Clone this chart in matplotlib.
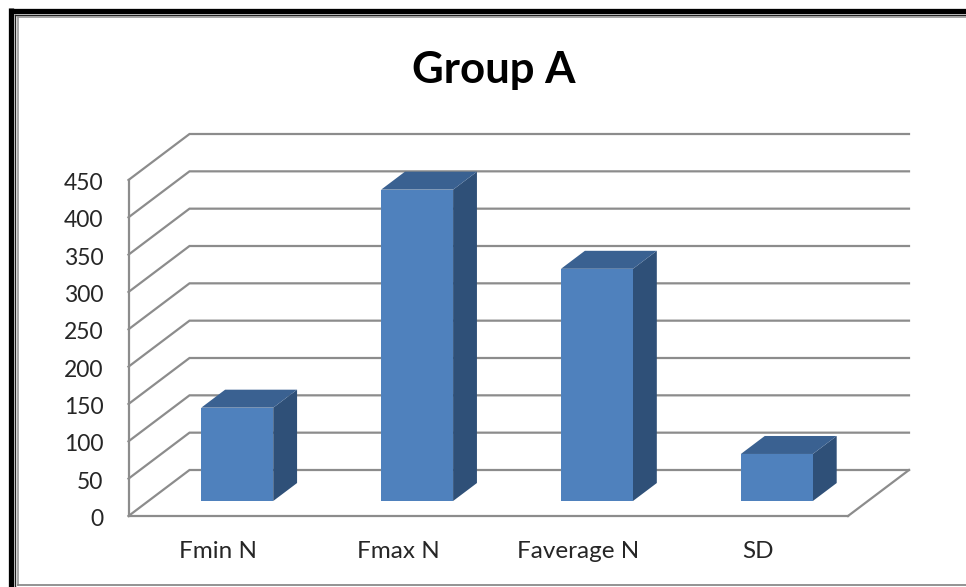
#Group A 3D style bar chart, drawn on a flat axes with an oblique depth offset
import matplotlib
matplotlib.use("Agg")
import matplotlib.pyplot as plt
from matplotlib.patches import Polygon
from matplotlib.transforms import ScaledTranslation

categories = ["Fmin N", "Fmax N", "Faverage N", "SD"]
values = [125, 417, 311, 63]
y_ticks = [0, 50, 100, 150, 200, 250, 300, 350, 400, 450]

W, H = 966, 587
plt.rcParams['font.family'] = ['Lato', 'DejaVu Sans']

fig = plt.figure(figsize=(W / 100, H / 100), dpi=100)

#frame round the whole picture, in pixels
bg = fig.add_axes([0, 0, 1, 1])
bg.set_xlim(0, W)
bg.set_ylim(H, 0)
bg.axis("off")
bg.plot([11, 11], [8, H], color="black", lw=3.8, solid_capstyle="butt")
bg.plot([9, W], [10.5, 10.5], color="black", lw=3.8, solid_capstyle="butt")
bg.plot([15, 15], [14.5, H], color="#222222", lw=1.0)
bg.plot([15, W], [14.5, 14.5], color="#222222", lw=1.0)
bg.plot([17.5, 17.5], [16.5, 585], color="#999999", lw=1.2)
bg.plot([17.5, W], [16.5, 16.5], color="#999999", lw=1.2)
bg.plot([17.5, W], [585, 585], color="#808080", lw=1.2)

#main axes is the front plane of the chart
left, right, top, bottom = 128.5, 848, 180, 516
ax = fig.add_axes([left / W, 1 - bottom / H, (right - left) / W, (bottom - top) / H])
ax.set_xlim(0, len(categories))
ax.set_ylim(0, 450)
ax.patch.set_alpha(0)

#depth of the box in data units
DX = 61 / ((right - left) / len(categories))
DY = 46 / ((bottom - top) / 450)

def proj(x, y, d):
    return x + d * DX, y + d * DY

grid_color = "#8C8C8C"
grid_lw = 1.6
for v in y_ticks:
    p0 = proj(0, v, 0)
    p1 = proj(0, v, 1)
    p2 = proj(len(categories), v, 1)
    ax.plot([p0[0], p1[0], p2[0]], [p0[1], p1[1], p2[1]], color=grid_color, lw=grid_lw,
            clip_on=False, zorder=1, solid_joinstyle="miter")

#floor, front edge and right edge
p0 = proj(len(categories), 0, 0)
p1 = proj(len(categories), 0, 1)
ax.plot([p0[0], p1[0]], [p0[1], p1[1]], color=grid_color, lw=grid_lw, clip_on=False, zorder=1)
ax.plot([0, len(categories)], [0, 0], color=grid_color, lw=grid_lw, clip_on=False, zorder=1)
ax.plot([0, 0], [0, 450], color=grid_color, lw=grid_lw, clip_on=False, zorder=1)

#bars
bar_w = 0.40
bar_shift = -0.006
d_front = 0.326
d_back = 0.717
front_color = "#4F81BD"
top_color = "#3A6191"
side_color = "#2F5078"
for i, val in enumerate(values):
    x0 = i + 0.5 + bar_shift - bar_w / 2
    x1 = i + 0.5 + bar_shift + bar_w / 2
    front = [proj(x0, 0, d_front), proj(x1, 0, d_front), proj(x1, val, d_front), proj(x0, val, d_front)]
    roof = [proj(x0, val, d_front), proj(x1, val, d_front), proj(x1, val, d_back), proj(x0, val, d_back)]
    side = [proj(x1, 0, d_front), proj(x1, 0, d_back), proj(x1, val, d_back), proj(x1, val, d_front)]
    ax.add_patch(Polygon(side, closed=True, fc=side_color, ec="none", clip_on=False, zorder=3))
    ax.add_patch(Polygon(roof, closed=True, fc=top_color, ec="none", clip_on=False, zorder=3))
    ax.add_patch(Polygon(front, closed=True, fc=front_color, ec="none", clip_on=False, zorder=4))

for s in ax.spines.values():
    s.set_visible(False)
ax.set_yticks(y_ticks)
ax.set_xticks([i + 0.5 for i in range(len(categories))])
ax.set_xticklabels(categories)
ax.tick_params(axis="y", length=0, pad=18, labelsize=16.5, labelcolor="#262626")
ax.tick_params(axis="x", length=0, pad=18, labelsize=17.5, labelcolor="#262626")

#nudge the value labels down a little
nudge = ScaledTranslation(0, -1.5 / 100, fig.dpi_scale_trans)
for lab in ax.get_yticklabels():
    lab.set_transform(lab.get_transform() + nudge)

fig.text(493.5 / W, 1 - 70 / H, "Group A", ha="center", va="center", fontsize=31.5, fontweight="bold", color="black")

fig.savefig("out.png", dpi=100)
